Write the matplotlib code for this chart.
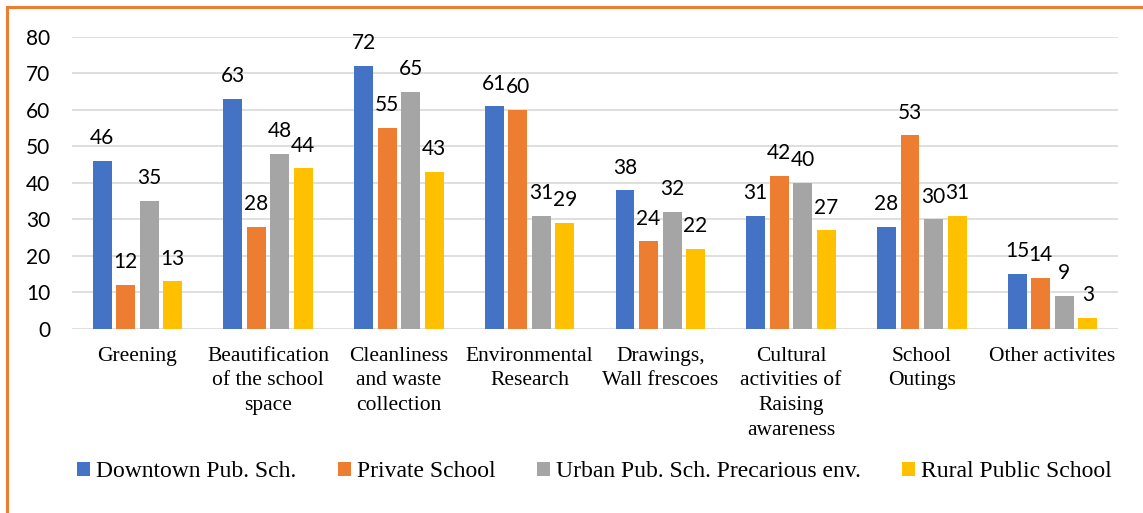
import matplotlib
matplotlib.use("Agg")
import matplotlib.pyplot as plt
from matplotlib.lines import Line2D
import numpy as np

# Data
categories = [
    "Greening",
    "Beautification\nof the school\nspace",
    "Cleanliness\nand waste\ncollection",
    "Environmental\nResearch",
    "Drawings,\nWall frescoes",
    "Cultural\nactivities of\nRaising\nawareness",
    "School\nOutings",
    "Other activites",
]
series_names = [
    "Downtown Pub. Sch.",
    "Private School",
    "Urban Pub. Sch. Precarious env.",
    "Rural Public School",
]
downtown = [46, 63, 72, 61, 38, 31, 28, 15]
private = [12, 28, 55, 60, 24, 42, 53, 14]
urban = [35, 48, 65, 31, 32, 40, 30, 9]
rural = [13, 44, 43, 29, 22, 27, 31, 3]
yticks = [0, 10, 20, 30, 40, 50, 60, 70, 80]

COLORS = ["#4472C4", "#ED7D31", "#A5A5A5", "#FFC000"]
SANS = "Lato"
SERIF = "Liberation Serif"

fig = plt.figure(figsize=(11.43, 5.13), dpi=100)
ax = fig.add_axes([0.063, 0.359, 0.915, 0.569])

x = np.arange(len(categories))
width = 0.145
step = 0.18
all_series = [downtown, private, urban, rural]

for i, (vals, name, color) in enumerate(zip(all_series, series_names, COLORS)):
    pos = x + (i - 1.5) * step
    ax.bar(pos, vals, width=width, color=color, label=name, zorder=3)
    # value labels above each bar
    for xp, v in zip(pos, vals):
        ax.annotate(
            str(v),
            (xp, v),
            textcoords="offset points",
            xytext=(0, 12),
            ha="center",
            va="baseline",
            fontsize=15,
            family=SANS,
            color="#000000",
        )

ax.set_xlim(-0.5, len(categories) - 0.5)
ax.set_ylim(0, 80)
ax.set_yticks(yticks)
ax.set_yticklabels([str(t) for t in yticks], fontsize=15, family=SANS)
ax.set_xticks(x)
ax.set_xticklabels(categories, fontsize=15.5, family=SERIF, va="top", linespacing=1.4)
ax.tick_params(axis="both", length=0)
ax.tick_params(axis="y", pad=15.5)
ax.tick_params(axis="x", pad=13)
ax.grid(axis="y", color="#D9D9D9", linewidth=1.2, zorder=0)
for s in ax.spines.values():
    s.set_visible(False)

fig.legend(
    loc="center",
    bbox_to_anchor=(0.52, 0.08),
    ncol=4,
    frameon=False,
    prop={"family": SERIF, "size": 17},
    handlelength=0.55,
    handleheight=0.55,
    handletextpad=0.25,
    columnspacing=1.75,
)

# orange frame (top and left edges visible in the reference)
fig.add_artist(Line2D([0.006, 1.0], [0.986, 0.986], color="#ED7D31", linewidth=2.2,
                      transform=fig.transFigure))
fig.add_artist(Line2D([0.006, 0.006], [0.0, 0.986], color="#ED7D31", linewidth=2.2,
                      transform=fig.transFigure))

fig.savefig("out.png", dpi=100)
